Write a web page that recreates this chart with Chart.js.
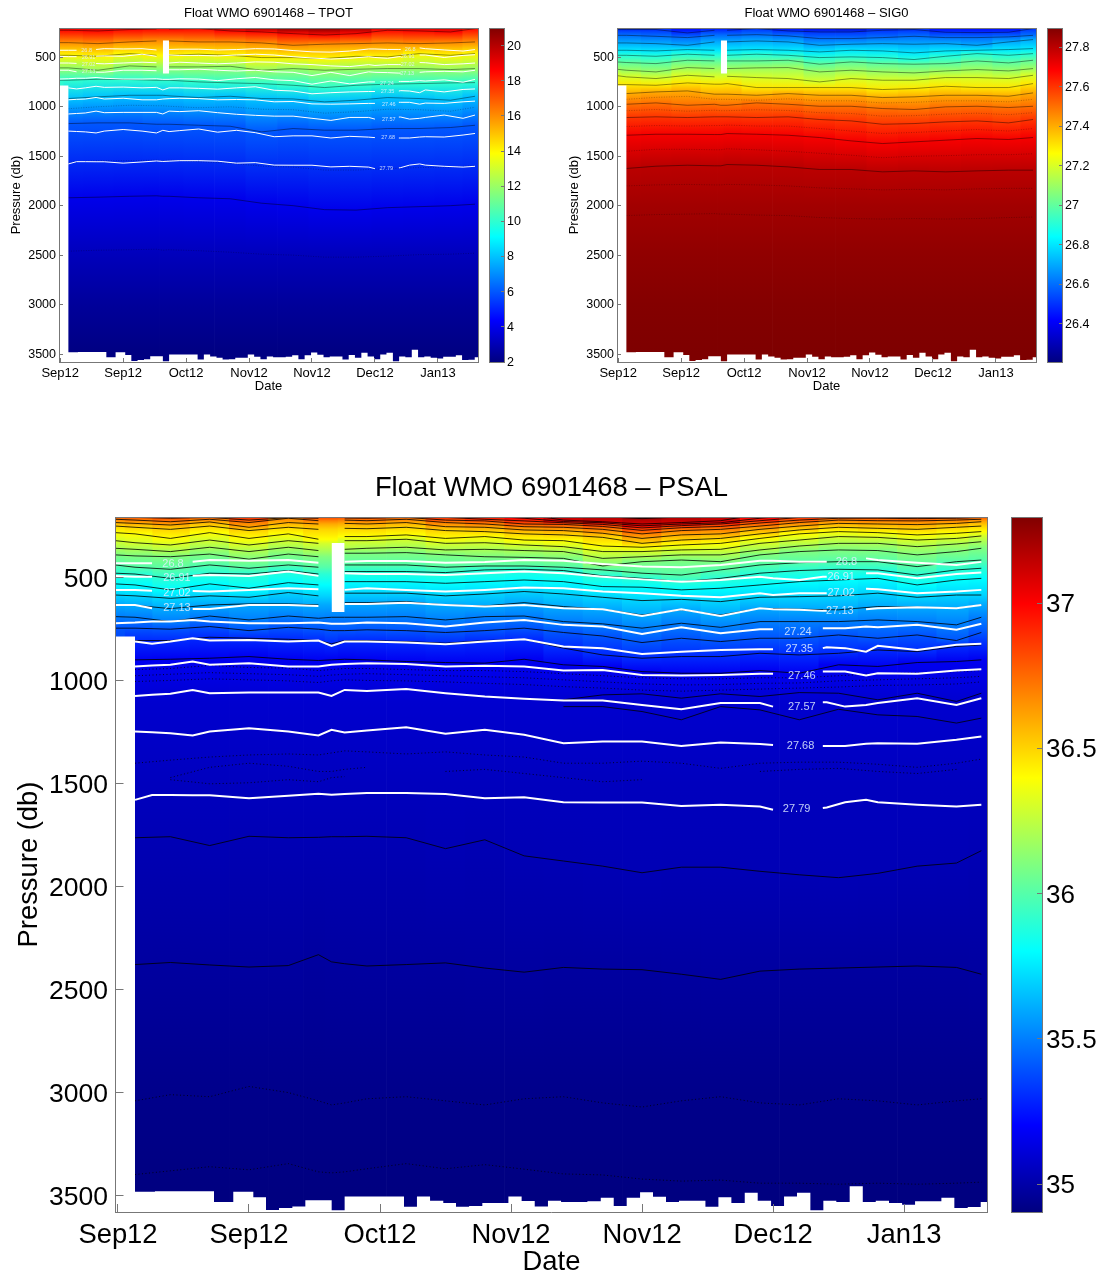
<!DOCTYPE html>
<html>
<head>
<meta charset="utf-8">
<title>Float WMO 6901468</title>
<script src="https://cdn.jsdelivr.net/npm/chart.js@4/dist/chart.umd.js"></script>
<style>
  body { margin: 0; background: #fff; }
  canvas { position: absolute; display: block; }
</style>
</head>
<body>
<script>
// x axis is in profile numbers, one profile every 10 days
const dateTicks = [0, 10, 20, 30, 40, 50, 60];
const dateLabels = ['Sep12', 'Sep12', 'Oct12', 'Nov12', 'Nov12', 'Dec12', 'Jan13'];
const pressureTicks = [500, 1000, 1500, 2000, 2500, 3000, 3500];

// sea floor side of the section: left edge of each step and its last good pressure
const bottomEdges = [-0.2, 1.30, 2.82, 7.33, 8.80, 10.33, 11.30, 12.29, 13.31, 14.30, 16.31, 17.30, 21.83, 22.82, 23.82, 24.83, 25.80, 26.80, 27.81, 29.80, 30.81, 31.81, 32.82, 33.82, 35.83, 36.85, 37.84, 38.83, 39.85, 40.84, 41.83, 42.82, 44.84, 45.83, 46.82, 47.84, 48.83, 49.85, 50.84, 51.83, 52.85, 53.84, 54.83, 55.85, 56.85, 57.84, 58.85, 59.85, 60.84, 61.83, 62.85, 63.84, 64.86, 65.85, 66.37];
const bottomDepths = [785, 3482, 3479, 3532, 3482, 3508, 3570, 3560, 3553, 3523, 3572, 3505, 3555, 3505, 3525, 3536, 3555, 3551, 3536, 3505, 3526, 3553, 3525, 3531, 3528, 3511, 3551, 3511, 3484, 3506, 3532, 3525, 3555, 3508, 3536, 3487, 3525, 3551, 3505, 3487, 3572, 3525, 3531, 3455, 3531, 3525, 3536, 3545, 3528, 3528, 3511, 3561, 3556, 3532, 3532];
const missingProfile = [16.3, 17.3];
const missingDepths = [330, 665];

// isopycnals (white lines), same pressures on TPOT and PSAL
const isoNodes = [-0.2, 1.3, 2.6, 4, 5.7, 7, 10, 13, 15.3, 16.3, 17.3, 19, 22, 25, 28, 31, 34, 37, 40, 43, 46, 49, 50, 52, 53.8, 54.1, 55.5, 57.1, 58, 61, 64, 65.9];
const sig2680 = [429,429,429,null,421,413,416,413,426,null,421,418,418,426,422,413,416,432,445,448,437,416,416,421,421,421,null,405,413,426,437,422];
const sig2691 = [490,494,494,null,489,486,490,469,490,null,477,481,481,486,477,469,477,494,507,518,510,494,502,510,494,494,null,477,477,502,481,474];
const sig2702 = [558,558,562,null,563,566,558,550,555,null,558,550,558,566,558,547,550,566,574,587,594,574,583,574,574,574,null,553,555,574,566,558];
const sig2713 = [631,631,647,null,651,651,631,631,636,null,626,626,620,631,639,631,647,652,685,652,685,647,652,655,660,660,null,652,647,642,647,631];
const sig2724 = [720,717,712,712,704,712,720,720,717,723,723,717,720,736,717,704,728,736,772,740,769,749,749,null,744,744,744,736,740,728,752,723];
const sig2735 = [null,809,820,809,793,804,801,809,804,830,809,809,814,822,809,798,833,841,869,858,850,846,846,null,841,837,841,858,830,850,825,820];
const sig2746 = [null,930,925,922,906,922,914,930,930,922,918,914,918,930,927,930,950,947,971,974,971,966,966,null,955,955,955,974,963,966,950,943];
const sig2757 = [null,1073,1068,1063,1044,1060,1057,1057,1057,1073,1044,1049,1040,1060,1076,1087,1095,1095,1117,1138,1108,1108,1125,null,1104,1104,1125,1117,1108,1084,1117,1084];
const sig2768 = [null,1246,1250,1254,1265,1246,1230,1246,1265,1238,1251,1241,1225,1257,1238,1262,1303,1294,1294,1316,1299,1307,1312,null,1316,1316,1316,1306,1303,1306,1286,1270];
const sig2779 = [null,1578,1555,1555,1556,1556,1570,1558,1548,1553,1550,1545,1545,1550,1570,1565,1590,1591,1591,1608,1602,1610,1626,null,1618,1615,1590,1578,1590,1602,1610,1602];
const isoLines = [sig2680, sig2691, sig2702, sig2713, sig2724, sig2735, sig2746, sig2757, sig2768, sig2779];

const isoLabelText = ['26.8', '26.91', '27.02', '27.13', '26.8', '26.91', '27.02', '27.13', '27.24', '27.35', '27.46', '27.57', '27.68', '27.79'];
const isoLabelX = [4.2, 4.5, 4.5, 4.5, 55.6, 55.2, 55.2, 55.1, 51.9, 52, 52.2, 52.2, 52.1, 51.8];
const isoLabelP = [432, 500, 572, 645, 423, 496, 573, 660, 762, 846, 976, 1125, 1315, 1620];

// PSAL contours
const psalNodes = [-0.2, 1.3, 4, 7, 10, 13, 15.3, 16.3, 17.3, 19, 22, 25, 28, 31, 34, 37, 40, 43, 46, 49, 52, 55, 58, 61, 64, 65.9];
const psal3720 = [170,170,170,170,170,170,170,null,170,170,170,170,170,170,194,202,212,204,194,170,170,170,170,170,170,170];
const psal3710 = [186,186,186,186,186,186,186,null,186,186,186,186,186,190,219,227,238,231,222,190,186,186,186,186,186,186];
const psal3700 = [194,194,194,194,194,194,194,null,194,194,194,194,199,210,226,232,247,238,232,210,194,194,194,194,194,194];
const psal3690 = [199,199,202,199,206,202,202,null,202,202,202,206,215,223,232,240,257,246,238,222,206,199,199,199,199,199];
const psal3680 = [206,206,210,206,219,207,210,null,209,210,206,219,223,238,240,250,269,256,250,233,219,210,210,212,210,206];
const psal3670 = [215,219,227,215,231,210,222,null,219,222,215,231,238,251,254,264,286,270,264,248,231,219,222,223,219,215];
const psal3660 = [231,235,243,228,254,231,238,null,235,238,231,251,254,267,270,283,308,291,286,264,248,235,238,241,235,227];
const psal3650 = [248,254,264,248,270,254,264,null,259,261,254,270,275,286,291,303,332,316,308,286,267,254,259,264,254,248];
const psal3640 = [280,286,308,280,308,286,312,null,299,299,291,308,299,316,319,345,351,340,332,308,286,275,280,291,283,275];
const psal3630 = [319,329,340,316,340,319,332,null,319,319,312,332,329,340,348,372,372,364,361,332,316,299,303,316,308,296];
const psal3620 = [356,361,372,351,372,351,367,null,361,356,351,364,361,367,372,405,397,388,388,364,345,332,332,348,335,324];
const psal3610 = [388,393,397,384,409,384,397,null,380,380,377,388,397,400,405,442,421,413,421,388,372,364,367,388,372,356];
const psal3600 = [437,448,458,437,453,437,448,null,437,437,437,448,442,442,448,461,477,486,461,437,426,421,421,445,421,413];
const psal3590 = [477,481,502,477,481,464,481,null,469,469,469,474,461,458,464,490,502,518,502,477,464,458,461,486,461,453];
const psal3580 = [529,534,558,529,550,523,534,null,518,518,518,526,518,510,518,542,545,558,550,534,518,510,502,534,510,502];
const psal3570 = [583,587,599,587,594,571,587,null,574,574,574,587,578,566,578,594,610,604,615,594,591,587,574,594,583,583];
const psal3560 = [628,633,649,631,626,626,631,null,620,620,615,631,636,620,639,652,680,655,680,647,652,655,639,642,647,631];
const psal3550 = [688,691,712,685,704,685,696,691,691,691,688,704,688,685,712,723,744,720,740,712,712,712,704,712,728,691];
const psal3540 = [744,744,749,736,756,740,749,756,756,752,756,765,756,744,765,782,814,793,809,793,793,777,793,777,804,765];
const psal3530 = [null,804,804,788,793,798,804,820,804,804,809,817,804,798,841,874,890,882,882,866,874,866,850,858,833,825];
const psal3520 = [null,898,895,890,882,895,901,898,895,898,906,911,914,895,922,930,955,963,963,950,963,922,930,911,906,898];
const psal3510 = [null,null,null,null,null,null,null,null,null,null,null,null,null,null,1092,1068,1063,1084,1063,1076,1057,1060,1092,1060,1100,1060];
const psal3509 = [null,null,null,null,null,null,null,null,null,null,null,null,null,null,1125,1125,1149,1189,1125,1141,1189,1138,1165,1173,1205,1181];
const psal3503 = [null,1762,1757,1800,1755,1762,1760,1757,1757,1755,1762,1815,1772,1850,1875,1900,1932,1905,1905,1925,1942,1956,1935,1900,1885,1825];
const psal3498 = [null,2378,2368,2380,2390,2383,2330,2365,2374,2385,2378,2370,2395,2415,2392,2400,2403,2425,2450,2410,2400,2395,2390,2385,2392,2425];
const psalDot1 = [null,945,940,925,935,938,950,945,940,940,945,950,950,955,965,975,985,990,990,985,985,975,965,960,955,950];
const psalDot2 = [null,975,968,960,965,970,978,972,968,965,970,975,980,985,995,1005,1015,1020,1018,1012,1010,1000,995,990,985,978];
const psalDot3 = [null,1003,998,990,995,1000,1008,1000,995,998,1000,1005,1012,1018,1028,1035,1045,1050,1045,1040,1035,1030,1022,1020,1015,1005];
const psalDot4 = [null,1400,1385,1370,1360,1355,1360,1350,1340,1345,1355,1345,1360,1370,1400,1400,1390,1400,1425,1400,1395,1395,1405,1420,1400,1380];
const psalDot5 = [null,3040,3010,3020,2970,3000,3040,3060,3050,3030,3020,3040,3060,3030,3020,3050,3070,3040,3020,3050,3060,3030,3040,3060,3040,3030];
const psalDot6 = [null,3398,3380,3360,3375,3345,3385,3390,3385,3370,3345,3370,3350,3372,3395,3400,3420,3430,3425,3440,3440,3445,3440,3445,3440,3435];
const psalDot7 = [null,null,1470,1420,1400,1415,1440,1440,1430,1420,null,null,null,null,null,null,null,null,null,1440,1430,1425,1440,1450,1430,null];
const psalDot8 = [null,null,1480,1500,1495,1480,1490,1470,1465,null,null,1440,1430,1450,1470,1490,1480,null,null,null,null,null,null,null,null,null];

const psalLevels = [37.2, 37.1, 37.0, 36.9, 36.8, 36.7, 36.6, 36.5, 36.4, 36.3, 36.2, 36.1, 36.0, 35.9, 35.8, 35.7, 35.6, 35.5, 35.4, 35.3, 35.17, 35.03, 34.98];
const psalLines = [psal3720, psal3710, psal3700, psal3690, psal3680, psal3670, psal3660, psal3650, psal3640, psal3630, psal3620, psal3610, psal3600, psal3590, psal3580, psal3570, psal3560, psal3550, psal3540, psal3530, psal3520, psal3503, psal3498];
const psalThinLines = [psal3510, psal3509];
const psalDotted = [psalDot1, psalDot2, psalDot3, psalDot4, psalDot5, psalDot6, psalDot7, psalDot8];
const psalDeepP = [1100, 1500, 3000, 3500];
const psalDeepV = [35.09, 35.05, 34.93, 34.905];

// TPOT and SIG0 contours share a coarser node list
const coarseNodes = [-0.2, 1.3, 6, 11, 15.3, 16.3, 17.3, 22, 27, 32, 37, 42, 47, 52, 57, 62, 65.9];

const tpot185 = [227,227,234,220,214,null,214,210,234,244,261,275,261,227,234,244,210];
const tpot16 = [352,352,362,345,335,null,335,345,345,355,379,368,362,355,362,355,345];
const tpot14 = [480,480,490,463,480,null,480,469,480,503,503,513,490,496,463,480,463];
const tpot12 = [607,607,631,587,597,null,597,597,591,631,614,631,621,614,614,624,614];
const tpot10 = [732,732,722,725,732,732,732,749,759,766,783,806,783,772,766,759,756];
const tpot8 = [null,917,900,884,884,884,890,907,894,917,921,951,934,907,917,934,894];
const tpot6 = [null,1170,1163,1163,1177,1177,1177,1187,1197,1254,1220,1237,1237,1220,1220,1210,1187];
const tpot4 = [null,1920,1914,1905,1900,1905,1905,1920,1930,1975,2000,2040,2045,2020,2010,2000,1985];
const tpotDot1 = [null,1020,1000,985,990,990,995,1010,1000,1025,1030,1065,1050,1025,1030,1045,1005];
const tpotDot2 = [null,1560,1545,1545,1540,1545,1540,1555,1570,1600,1610,1640,1640,1625,1615,1610,1595];
const tpotDot3 = [null,2460,2450,2445,2440,2450,2445,2455,2470,2490,2500,2520,2520,2510,2495,2490,2480];
const tpotLevels = [18.5, 16, 14, 12, 10, 8, 6, 4];
const tpotLines = [tpot185, tpot16, tpot14, tpot12, tpot10, tpot8, tpot6, tpot4];
const tpotDotted = [tpotDot1, tpotDot2, tpotDot3];
const tpotSurface = [19,19,19,19,19,19,19,19.5,20,20.5,21,21,20.5,20,19.5,19.5,19.5];
const tpotDeepP = [2500, 3000, 3500];
const tpotDeepV = [3.1, 2.5, 2.05];

const sig0265 = [220,220,220,254,227,null,227,210,234,244,244,227,220,247,251,247,210];
const sig0266 = [278,278,288,301,278,null,278,271,284,311,311,301,288,301,301,294,278];
const sig0267 = [355,355,362,379,345,null,345,335,345,379,368,362,368,362,379,345,321];
const sig0268 = [429,429,436,422,429,null,429,422,429,446,429,436,456,436,429,422,412];
const sig0269 = [480,480,490,469,480,null,480,469,480,503,496,503,523,490,463,480,463];
const sig0270 = [547,553,564,530,537,null,537,537,530,570,547,564,570,564,537,557,530];
const sig0271 = [621,631,648,604,614,null,614,607,604,648,631,648,658,638,624,638,614];
const sig0272 = [685,698,715,682,698,null,692,705,715,749,715,732,732,705,705,715,682];
const sig0273 = [776,776,783,759,772,772,766,806,806,806,806,826,816,793,806,806,766];
const sig0274 = [null,867,850,840,873,873,873,884,867,884,884,907,900,884,884,894,860];
const sig0275 = [null,975,961,985,975,985,985,961,975,995,995,1018,1028,1001,995,1008,995];
const sig0276 = [null,1109,1102,1109,1102,1102,1102,1109,1102,1129,1143,1177,1170,1153,1143,1163,1129];
const sig0277 = [null,1288,1278,1278,1281,1281,1271,1278,1288,1311,1345,1372,1355,1338,1321,1331,1311];
const sig0278 = [null,1624,1601,1591,1597,1597,1584,1591,1608,1634,1634,1658,1648,1658,1648,1641,1641];
const sig0Dot1 = [null,925,905,895,925,925,925,935,920,940,940,962,955,940,940,950,925];
const sig0Dot2 = [null,1040,1028,1045,1035,1040,1040,1030,1038,1060,1068,1095,1090,1075,1065,1080,1060];
const sig0Dot3 = [null,1200,1190,1195,1190,1190,1185,1195,1195,1220,1245,1270,1260,1245,1230,1245,1220];
const sig0Dot4 = [null,1450,1430,1430,1435,1435,1425,1435,1450,1470,1490,1515,1500,1495,1485,1485,1475];
const sig0Dot5 = [null,1800,1790,1785,1790,1790,1785,1790,1800,1820,1830,1840,1835,1840,1830,1825,1825];
const sig0Dot6 = [null,2100,2090,2085,2080,2085,2085,2095,2100,2120,2130,2135,2130,2135,2130,2120,2115];
const sig0Levels = [26.5, 26.6, 26.7, 26.8, 26.9, 27.0, 27.1, 27.2, 27.3, 27.4, 27.5, 27.6, 27.7, 27.8];
const sig0Lines = [sig0265, sig0266, sig0267, sig0268, sig0269, sig0270, sig0271, sig0272, sig0273, sig0274, sig0275, sig0276, sig0277, sig0278];
const sig0Dotted = [sig0Dot1, sig0Dot2, sig0Dot3, sig0Dot4, sig0Dot5, sig0Dot6];
const sig0Surface = [26.45,26.45,26.42,26.42,26.42,26.42,26.42,26.45,26.4,26.35,26.3,26.35,26.4,26.42,26.42,26.42,26.45];
const sig0DeepP = [2000, 2500, 3000, 3500];
const sig0DeepV = [27.84, 27.87, 27.89, 27.9];

const tpotBarTicks = [2, 4, 6, 8, 10, 12, 14, 16, 18, 20];
const sig0BarTicks = [26.4, 26.6, 26.8, 27, 27.2, 27.4, 27.6, 27.8];
const psalBarTicks = [35, 35.5, 36, 36.5, 37];

const xMin = -0.19, xMax = 66.37;
const yMin = 204, yMax = 3580;
const boxColor = '#777';

const small = {left: 59, width: 484, height: 394, plotRight: 478, labelSize: 5.5, font: 12.5, bigFont: 13, shift: 0, tick: 4, tickGapX: 4, tickGapY: 3, isoWidth: 1, lineWidth: 0.7, lineColor: 'rgba(0,0,0,0.6)',
  dotColor: 'rgba(0,0,0,0.45)', dotWidth: 0.6, dotDash: [1, 1.5], titlePad: [7, 8], xHeight: 32, yTitlePad: 8.5};
const large = {left: 115.5, width: 1000, height: 814, plotRight: 987.5, labelSize: 11, font: 26.5, bigFont: 27.4, shift: 2, tick: 8, tickGapX: 8, tickGapY: 7.5, isoWidth: 2, lineWidth: 0.8, lineColor: '#000',
  dotColor: '#000', dotWidth: 0.8, dotDash: [1, 2.5], titlePad: [10, 14.6], xHeight: 67, yTitlePad: 13};

function jet(t) {
  const c = v => Math.round(255 * Math.min(1, Math.max(0, v)));
  return `rgb(${c(1.5 - Math.abs(4 * t - 3))},${c(1.5 - Math.abs(4 * t - 2))},${c(1.5 - Math.abs(4 * t - 1))})`;
}

function makeCanvas(left, top, width, height) {
  const canvas = document.createElement('canvas');
  canvas.width = width;
  canvas.height = height;
  canvas.style.left = left + 'px';
  canvas.style.top = top + 'px';
  canvas.style.width = width + 'px';
  canvas.style.height = height + 'px';
  document.body.appendChild(canvas);
  return canvas;
}

// one column of the section: a floating bar painted with a gradient whose stops sit on the contours
function columnGradient(context, section, i) {
  const chart = context.chart;
  const y = chart.scales.y;
  if (!y) return '#fff';
  const y0 = y.getPixelForValue(100), y1 = y.getPixelForValue(3700);
  if (!isFinite(y0) || !isFinite(y1) || y0 === y1) return '#fff';
  const gradient = chart.ctx.createLinearGradient(0, y0, 0, y1);
  const add = (p, v) => {
    if (p === null || p === undefined) return;
    const at = Math.min(1, Math.max(0, (y.getPixelForValue(p) - y0) / (y1 - y0)));
    gradient.addColorStop(at, jet((v - section.min) / (section.max - section.min)));
  };
  if (section.surface) add(yMin, section.surface[i]);
  // the gap profile has no contour value, its neighbour colours it
  section.lines.forEach((line, k) => add(line[i] === null && i > 0 ? line[i - 1] : line[i], section.levels[k]));
  section.deepP.forEach((p, k) => add(p, section.deepV[k]));
  return gradient;
}

function lineSet(nodes, values, style) {
  return Object.assign({
    type: 'line',
    data: nodes.map((x, i) => ({x: x, y: values[i]})),
    pointRadius: 0,
    tension: 0,
    fill: false,
    spanGaps: false
  }, style);
}

function fixedTicks(values) {
  return scale => { scale.ticks = values.map(v => ({value: v})); };
}

function boxAxis(axis, position) {
  return {
    type: 'linear', axis: axis, position: position,
    min: 0, max: 1,
    ticks: {display: false},
    grid: {drawOnChartArea: false, drawTicks: false},
    border: {color: boxColor, z: 2},
    afterFit: s => { if (axis === 'x') s.height = 0; else s.width = 0; }
  };
}

const isoLabelPlugin = {
  id: 'isoLabels',
  afterDatasetsDraw(chart, args, opts) {
    if (!opts.size) return;
    const ctx = chart.ctx;
    ctx.save();
    ctx.font = opts.size + 'px "Liberation Sans"';
    ctx.fillStyle = 'rgba(225,238,255,0.85)';
    ctx.textAlign = 'center';
    ctx.textBaseline = 'middle';
    isoLabelText.forEach((text, i) => {
      ctx.fillText(text, chart.scales.x.getPixelForValue(isoLabelX[i]), chart.scales.y.getPixelForValue(isoLabelP[i]));
    });
    ctx.restore();
  }
};

function drawSection(section, geo, left, top, title) {
  const canvas = makeCanvas(left, top, geo.width, geo.height);
  const datasets = [];

  datasets.push({
    type: 'bar',
    order: 10,
    data: section.nodes.map(x => ({x: x, y: [yMin, yMax]})),
    barThickness: 'flex',
    barPercentage: 1,
    categoryPercentage: 1,
    borderWidth: 0,
    backgroundColor: c => (c.dataIndex === undefined ? '#fff' : columnGradient(c, section, c.dataIndex))
  });

  section.lines.forEach(line => {
    datasets.push(lineSet(section.nodes, line, {order: 6, borderColor: geo.lineColor, borderWidth: geo.lineWidth}));
  });
  (section.thinLines || []).forEach(line => {
    datasets.push(lineSet(section.nodes, line, {order: 6, borderColor: geo.lineColor, borderWidth: geo.lineWidth}));
  });
  (section.dotted || []).forEach(line => {
    datasets.push(lineSet(section.nodes, line, {order: 7, borderColor: geo.dotColor, borderWidth: geo.dotWidth, borderDash: geo.dotDash}));
  });
  if (section.showIso) {
    isoLines.forEach(line => {
      datasets.push(lineSet(isoNodes, line, {order: 5, borderColor: '#fff', borderWidth: geo.isoWidth}));
    });
  }

  // white where the float has no data
  datasets.push(lineSet(bottomEdges, bottomDepths, {order: 3, stepped: 'before', borderWidth: 0, borderColor: '#fff', backgroundColor: '#fff', fill: {value: yMax}}));
  datasets.push(lineSet(missingProfile, [missingDepths[0], missingDepths[0]], {order: 2, borderWidth: 0, borderColor: '#fff', backgroundColor: '#fff', fill: {value: missingDepths[1]}}));

  const font = {family: '"Liberation Sans"', size: geo.font};
  const bigFont = {family: '"Liberation Sans"', size: geo.bigFont};
  new Chart(canvas, {
    type: 'bar',
    data: {datasets: datasets},
    plugins: [isoLabelPlugin],
    options: {
      responsive: false,
      animation: false,
      devicePixelRatio: 1,
      layout: {padding: {right: geo.width - geo.plotRight}},
      plugins: {
        legend: {display: false},
        tooltip: {enabled: false},
        isoLabels: {size: section.showIso ? geo.labelSize : 0},
        title: {
          display: true,
          text: title,
          fullSize: false,
          color: '#000',
          font: {family: font.family, size: geo.bigFont, weight: 'normal', lineHeight: 1},
          padding: {top: geo.titlePad[0], bottom: geo.titlePad[1]}
        }
      },
      scales: {
        x: {
          type: 'linear',
          offset: false,
          min: xMin,
          max: xMax,
          afterBuildTicks: fixedTicks(dateTicks),
          afterFit: s => { s.height = geo.xHeight; },
          grid: {drawOnChartArea: false, tickLength: -geo.tick, color: boxColor, z: 1, offset: false},
          border: {color: boxColor, z: 2},
          ticks: {
            autoSkip: false, maxRotation: 0, color: '#000', font: bigFont,
            padding: geo.tickGapX + geo.tick - geo.shift / 2,
            callback: v => dateLabels[dateTicks.indexOf(v)]
          },
          title: {display: true, text: 'Date', color: '#000', font: Object.assign({lineHeight: 1.2}, bigFont), padding: 0}
        },
        y: {
          type: 'linear',
          reverse: true,
          min: yMin,
          max: yMax,
          afterBuildTicks: fixedTicks(pressureTicks),
          afterFit: s => { s.width = geo.left; },
          grid: {drawOnChartArea: false, tickLength: -geo.tick, color: boxColor, z: 1},
          border: {color: boxColor, z: 2},
          ticks: {color: '#000', font: font, labelOffset: geo.shift, padding: geo.tickGapY + geo.tick, callback: v => String(v)},
          title: {display: true, text: 'Pressure (db)', color: '#000', font: Object.assign({lineHeight: 1.2}, bigFont), padding: {top: geo.yTitlePad, bottom: 0}}
        },
        xTop: boxAxis('x', 'top'),
        yRight: boxAxis('y', 'right')
      }
    }
  });
}

function drawColorbar(left, top, width, height, plotW, padTop, padBottom, min, max, ticks, fontSize, tick, gap, shift) {
  const canvas = makeCanvas(left, top, width, height);
  const font = {family: '"Liberation Sans"', size: fontSize};
  new Chart(canvas, {
    type: 'bar',
    data: {
      labels: ['bar'],
      datasets: [{
        data: [[min, max]],
        barPercentage: 1,
        categoryPercentage: 1,
        borderWidth: 0,
        backgroundColor: c => {
          const y = c.chart.scales.y;
          if (!y) return '#fff';
          const y0 = y.getPixelForValue(min), y1 = y.getPixelForValue(max);
          if (!isFinite(y0) || !isFinite(y1) || y0 === y1) return '#fff';
          const g = c.chart.ctx.createLinearGradient(0, y0, 0, y1);
          [0, 0.125, 0.375, 0.625, 0.875, 1].forEach(t => g.addColorStop(t, jet(t)));
          return g;
        }
      }]
    },
    options: {
      responsive: false,
      animation: false,
      devicePixelRatio: 1,
      layout: {padding: {left: 5, top: padTop, bottom: padBottom}},
      plugins: {legend: {display: false}, tooltip: {enabled: false}},
      scales: {
        x: {
          ticks: {display: false},
          grid: {display: false},
          border: {color: boxColor, z: 2},
          afterFit: s => { s.height = 0; }
        },
        y: {
          position: 'right',
          min: min,
          max: max,
          afterBuildTicks: fixedTicks(ticks),
          afterFit: s => { s.width = width - 5 - plotW; },
          grid: {drawOnChartArea: false, tickLength: -tick, color: boxColor, z: 1},
          border: {color: boxColor, z: 2},
          ticks: {color: '#000', font: font, labelOffset: shift, padding: gap + tick, callback: v => String(v)}
        },
        xTop: boxAxis('x', 'top'),
        yLeft: boxAxis('y', 'left')
      }
    }
  });
}

drawSection({
  nodes: coarseNodes, lines: tpotLines, levels: tpotLevels, surface: tpotSurface, dotted: tpotDotted,
  deepP: tpotDeepP, deepV: tpotDeepV, min: 2, max: 21, showIso: true
}, small, 0, 0, 'Float WMO 6901468 \u2013 TPOT');

drawSection({
  nodes: coarseNodes, lines: sig0Lines, levels: sig0Levels, surface: sig0Surface, dotted: sig0Dotted,
  deepP: sig0DeepP, deepV: sig0DeepV, min: 26.206, max: 27.897, showIso: false
}, small, 558, 0, 'Float WMO 6901468 \u2013 SIG0');

drawSection({
  nodes: psalNodes, lines: psalLines, levels: psalLevels, thinLines: psalThinLines, dotted: psalDotted,
  deepP: psalDeepP, deepV: psalDeepV, min: 34.904, max: 37.296, showIso: true
}, large, 0, 465, 'Float WMO 6901468 \u2013 PSAL');

drawColorbar(484, 0, 60, 394, 15, 28, 32, 2, 21, tpotBarTicks, 12.5, 3, 3, 0.5);
drawColorbar(1042, 0, 62, 394, 15, 28, 32, 26.206, 27.897, sig0BarTicks, 12.5, 3, 3, 0.5);
drawColorbar(1006, 465, 98, 814, 31, 52, 67, 34.904, 37.296, psalBarTicks, 26, 5, 4, 2);
</script>
</body>
</html>
